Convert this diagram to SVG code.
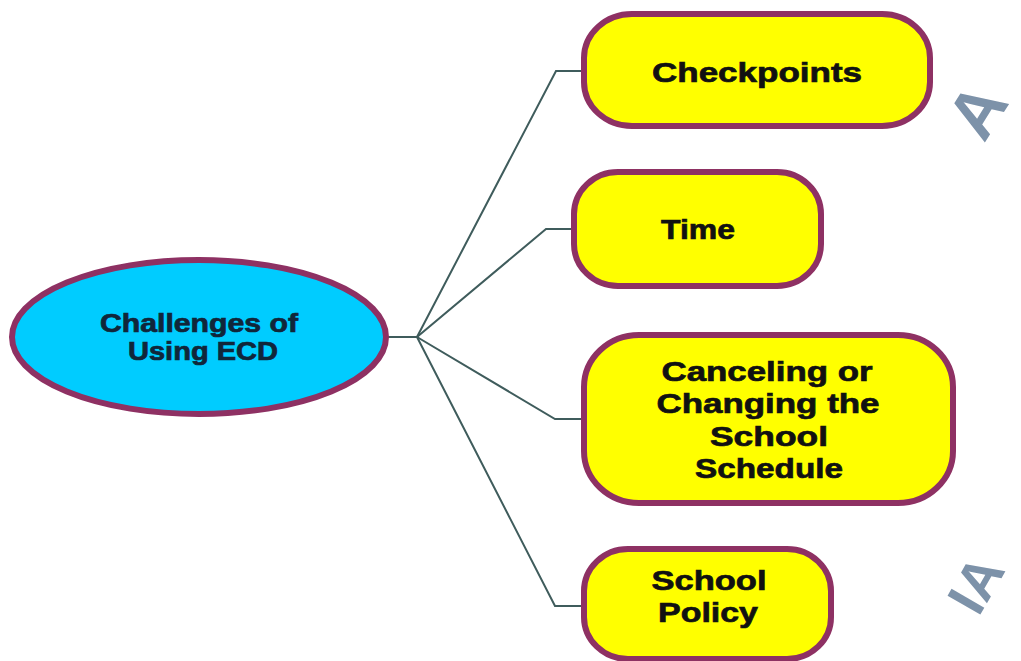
<svg xmlns="http://www.w3.org/2000/svg" width="1021" height="661" viewBox="0 0 1021 661">
  <style>
    .root { fill: #00CCFF; stroke: #8E3163; stroke-width: 6; }
    .leaf { fill: #FFFF00; stroke: #8E3163; stroke-width: 6; }
    .lbl { font-family: "Liberation Sans", Arial, sans-serif; font-weight: bold; font-size: 28px; fill: #111111; stroke: #111111; stroke-width: 0.7; text-anchor: middle; }
    .rootlbl { fill: #10263A; stroke: #10263A; font-size: 25px; }
    .edge { fill: none; stroke: #3F5C5C; stroke-width: 2; }
    .wm { font-family: "Liberation Sans", Arial, sans-serif; font-weight: bold; fill: #7D92A9; }
  </style>

  <rect width="1021" height="661" fill="#FFFFFF"/>

  <!-- faded stamp lettering at the right edge -->
  <g id="watermark">
    <text class="wm" font-size="68" transform="translate(984,144) rotate(-58)">A</text>
    <text class="wm" font-size="55" text-anchor="end" transform="translate(1006,570) rotate(-60)">IA</text>
  </g>

  <!-- connectors -->
  <g id="connectors">
    <line class="edge" x1="388" y1="337" x2="417" y2="337" stroke-width="3"/>
    <polyline class="edge" points="417,337 556,71 584,71"/>
    <polyline class="edge" points="417,337 546,229 574,229"/>
    <polyline class="edge" points="417,337 555,419 584,419"/>
    <polyline class="edge" points="417,337 555,606 584,606"/>
  </g>

  <g id="node-challenges">
    <ellipse class="root" cx="199" cy="337" rx="187" ry="77"/>
    <text class="lbl rootlbl" x="199" y="332" textLength="198" lengthAdjust="spacingAndGlyphs">Challenges of</text>
    <text class="lbl rootlbl" x="203" y="360" textLength="150" lengthAdjust="spacingAndGlyphs">Using ECD</text>
  </g>

  <g id="node-checkpoints">
    <rect class="leaf" x="584" y="14" width="346" height="112" rx="48" ry="44"/>
    <text class="lbl" x="757" y="82" textLength="210" lengthAdjust="spacingAndGlyphs">Checkpoints</text>
  </g>

  <g id="node-time">
    <rect class="leaf" x="574" y="172" width="247" height="114" rx="44" ry="42"/>
    <text class="lbl" x="698" y="239" textLength="74" lengthAdjust="spacingAndGlyphs">Time</text>
  </g>

  <g id="node-canceling">
    <rect class="leaf" x="584" y="335" width="369" height="168" rx="55" ry="52"/>
    <text class="lbl" x="767" y="381" textLength="211" lengthAdjust="spacingAndGlyphs">Canceling or</text>
    <text class="lbl" x="768" y="413" textLength="223" lengthAdjust="spacingAndGlyphs">Changing the</text>
    <text class="lbl" x="769" y="446" textLength="118" lengthAdjust="spacingAndGlyphs">School</text>
    <text class="lbl" x="769" y="478" textLength="148" lengthAdjust="spacingAndGlyphs">Schedule</text>
  </g>

  <g id="node-policy">
    <rect class="leaf" x="584" y="549" width="247" height="110" rx="44" ry="42"/>
    <text class="lbl" x="709" y="590" textLength="115" lengthAdjust="spacingAndGlyphs">School</text>
    <text class="lbl" x="708" y="622" textLength="100" lengthAdjust="spacingAndGlyphs">Policy</text>
  </g>
</svg>
